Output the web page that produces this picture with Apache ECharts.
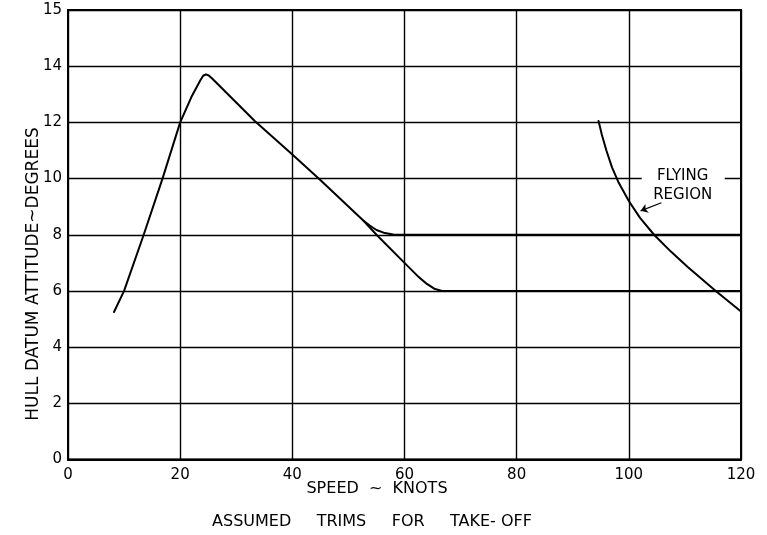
<!DOCTYPE html>
<html><head><meta charset="utf-8">
<script src="https://cdn.jsdelivr.net/npm/echarts@6/dist/echarts.min.js"></script>
<style>html,body{margin:0;padding:0;background:#fff}#c{width:767px;height:535px}</style>
</head><body><div id="c"></div>
<script>
// ---- data ----
const xTicks = [0, 20, 40, 60, 80, 100, 120];
const yTickValues = [0, 2, 4, 6, 8, 10, 12, 14, 16];
const yTickLabels = ['0', '2', '4', '6', '8', '10', '12', '14', '15'];
const mainTrim = [[8.2,5.25],[10,6],[13.5,8],[16.85,10],[20,12],[22,12.9],[23.6,13.5],[24.1,13.66],[24.6,13.71],[25.1,13.67],[25.7,13.56],[33.3,12.05],[40,10.86],[44.7,10],[52.7,8.5],[55,8.0],[60,7.0],[62.5,6.5],[64,6.25],[65.3,6.08],[66.7,6.0],[120,6]];
const upperTrim = [[52.7,8.5],[53.8,8.33],[55,8.17],[56.5,8.06],[58,8.01],[59.5,8],[120,8]];
const flyingRegion = [[94.6,12.05],[95.2,11.55],[96,11.0],[97,10.4],[98.2,9.85],[100,9.2],[102,8.6],[104.5,8.0],[107.5,7.4],[110.5,6.85],[115.5,6.0],[120,5.27]];
const annotationText = ['FLYING', 'REGION'];
const annotationAnchor = [[109.6,10.09],[109.6,9.41]];
const annotationGap = [[102.3,10],[117.1,10]];
const arrowFrom = [105.8,9.14];
const arrowTo = [102.1,8.85];
const xTitle = 'SPEED  ~  KNOTS';
const yTitle = 'HULL DATUM ATTITUDE~DEGREES';
const caption = 'ASSUMED     TRIMS     FOR     TAKE- OFF';

const FONT = 'DejaVu Sans';
const chart = echarts.init(document.getElementById('c'), null, {renderer: 'canvas'});
const lineSeries = (name, data) => ({
  name, type: 'line', data, showSymbol: false, smooth: false,
  lineStyle: {color: '#000', width: 2, join: 'round', cap: 'round'}, z: 3, animation: false
});
chart.setOption({
  backgroundColor: '#fff',
  animation: false,
  grid: {left: 68, right: 26, top: 10, bottom: 75.5, show: true, borderColor: '#000', borderWidth: 2, backgroundColor: 'transparent'},
  xAxis: {
    type: 'value', min: xTicks[0], max: xTicks[xTicks.length-1], interval: 20,
    axisLine: {show: true, lineStyle: {color: '#000', width: 2}},
    axisTick: {show: false},
    splitLine: {show: true, lineStyle: {color: '#000', width: 1.4}},
    axisLabel: {color: '#000', fontFamily: FONT, fontSize: 15, margin: 8}
  },
  yAxis: {
    type: 'value', min: yTickValues[0], max: yTickValues[yTickValues.length-1], interval: 2,
    axisLine: {show: true, lineStyle: {color: '#000', width: 2}},
    axisTick: {show: false},
    splitLine: {show: true, lineStyle: {color: '#000', width: 1.4}},
    axisLabel: {color: '#000', fontFamily: FONT, fontSize: 15, margin: 6,
      formatter: v => { const i = yTickValues.indexOf(v); return i >= 0 ? yTickLabels[i] : ''; }}
  },
  series: [
    lineSeries('Trim', mainTrim),
    lineSeries('Upper trim', upperTrim),
    Object.assign(lineSeries('Flying region', flyingRegion), {
      markLine: {
        silent: true, symbol: ['none', 'arrow'], symbolSize: 7, label: {show: false},
        lineStyle: {color: '#000', width: 1.2, type: 'solid'},
        data: [[{coord: arrowFrom}, {coord: arrowTo}]]
      }
    })
  ]
});

const p = c => chart.convertToPixel({gridIndex: 0}, c);
const g1 = p(annotationGap[0]), g2 = p(annotationGap[1]);
const graphics = [
  {type: 'rect', z: 1, shape: {x: g1[0], y: g1[1]-3, width: g2[0]-g1[0], height: 6}, style: {fill: '#fff'}},
];
annotationText.forEach((t, i) => {
  const a = p(annotationAnchor[i]);
  graphics.push({type: 'text', z: 5, x: a[0], y: a[1], style: {text: t, fill: '#000', font: '15px "' + FONT + '"', textAlign: 'center', textVerticalAlign: 'middle'}});
});
graphics.push({type: 'text', z: 5, x: 377, y: 489, style: {text: xTitle, fill: '#000', font: '16px "' + FONT + '"', textAlign: 'center', textVerticalAlign: 'middle'}});
graphics.push({type: 'text', z: 5, x: 372, y: 522, style: {text: caption, fill: '#000', font: '16px "' + FONT + '"', textAlign: 'center', textVerticalAlign: 'middle'}});
graphics.push({type: 'text', z: 5, x: 34, y: 274, rotation: Math.PI/2, style: {text: yTitle, fill: '#000', font: '17px "' + FONT + '"', textAlign: 'center', textVerticalAlign: 'middle'}});
chart.setOption({graphic: graphics});
</script>
</body></html>
